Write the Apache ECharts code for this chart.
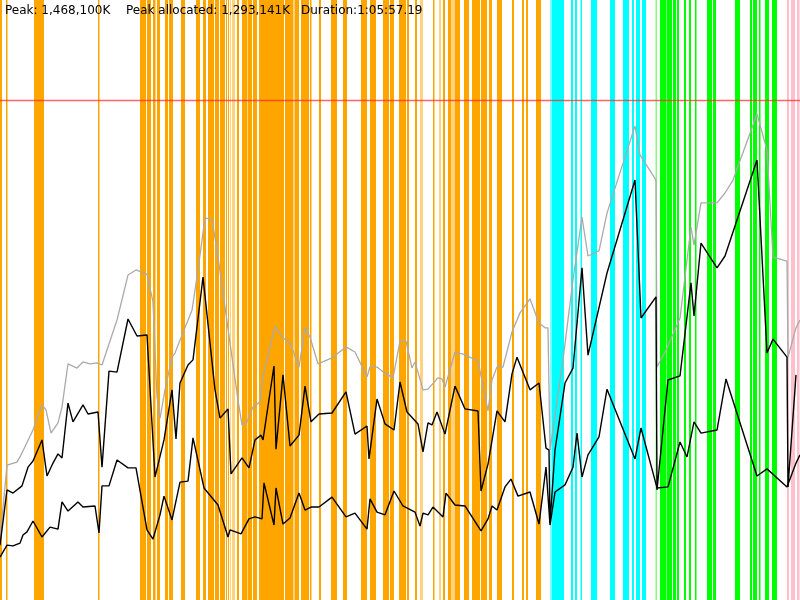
<!DOCTYPE html>
<html>
<head>
<meta charset="utf-8">
<script src="https://cdn.jsdelivr.net/npm/echarts@6/dist/echarts.min.js"></script>
<style>
    html, body { margin: 0; padding: 0; background: #fff; }
    #chartsbox { width: 800px; height: 600px; }
</style>
</head>
<body>
<div id="chartsbox"></div>
<script type="text/javascript">

    // 时间轴: 0..800 个采样单位 (总时长 1:05:57.19), 内存单位: 千 K
    var timeMax = 800;
    var memMax = 1761.6;
    var peakMem = 1468.1;

    var labelTexts = ['Peak: 1,468,100K', 'Peak allocated: 1,293,141K', 'Duration:1:05:57.19'];

    // GC 事件区段 [开始, 结束]
    var orangeBands = [
        [0, 2], [6, 7.5], [34, 44], [98, 99.5],
        [140, 146], [147, 151], [153, 155.5], [157, 160], [165, 168], [169, 173], [181, 185],
        [196, 200], [203, 206], [208, 214], [215, 219], [220, 225], [226, 227], [228, 229],
        [237, 239], [242, 247], [247.5, 252], [253, 257], [259, 284], [285, 293.5], [294.5, 299],
        [301, 309], [310, 311.5], [319, 321], [331, 337], [343, 347], [361, 367], [370, 376],
        [383, 389], [390, 394], [399, 406], [407, 409], [415, 417],
        [433, 434.5], [443, 445], [448, 451], [455, 460], [464, 469], [472, 480], [481, 487],
        [489, 492], [497, 502], [512, 514], [522, 524], [526, 528], [536, 541]
    ];
    var orangeFaintBands = [
        [230, 231], [232, 235], [420, 423], [439, 441], [451, 455]
    ];
    var cyanBands = [
        [552, 564], [571, 573], [575, 577], [580.5, 582], [591, 597], [610, 615],
        [623, 629], [632, 634], [636, 640], [642, 646]
    ];
    var cyanFaintBands = [[550, 552]];
    var greenBands = [
        [660, 666.5], [667, 672], [673, 676], [677, 679], [684, 686], [689, 691], [695, 696.5],
        [707, 712], [713, 716], [735, 740], [750, 752], [753, 757], [759, 760.5], [765, 769], [772, 777]
    ];
    var greenFaintBands = [[655.5, 657]];
    var pinkBands = [[787, 789], [791, 795], [797, 799.5]];

    // 内存曲线 [时间, 内存]
    var grayLine = [
        [0, 176], [7, 396], [17, 405], [20, 420], [33, 499], [42, 573], [46, 558], [51, 490],
        [58, 520], [62, 567], [68, 693], [77, 681], [83, 699], [90, 693], [97, 696], [102, 690],
        [108, 743], [117, 822], [128, 954], [136, 969], [147, 957], [153, 875], [157, 596],
        [160, 534], [165, 617], [172, 713], [175, 725], [180, 763], [192, 851], [197, 948],
        [205, 1122], [212, 1116], [217, 1028], [230, 755], [238, 587], [242, 514], [247, 523],
        [253, 567], [260, 581], [263, 655], [275, 804], [283, 769], [290, 755], [299, 684],
        [305, 799], [310, 772], [318, 693], [332, 711], [346, 743], [355, 728], [367, 655],
        [370, 684], [377, 684], [385, 666], [393, 652], [400, 760], [406, 760], [412, 681],
        [415, 699], [423, 617], [428, 619], [438, 652], [442, 649], [445, 625], [455, 728],
        [463, 722], [478, 702], [488, 555], [492, 646], [497, 684], [503, 684], [512, 787],
        [520, 843], [530, 884], [539, 813], [545, 799], [548, 799], [550, 440], [563, 705],
        [573, 940], [582, 1124], [588, 1010], [599, 1025], [607, 1136], [635, 1392], [640, 1307],
        [656, 1233], [657, 684], [667, 740], [680, 828], [691, 1095], [694, 1042], [701, 1166],
        [717, 1166], [725, 1195], [733, 1233], [757, 1427], [767, 1321], [773, 1007], [787, 995],
        [788, 713], [796, 799], [800, 822]
    ];
    var usedLine = [
        [0, 161], [7, 323], [13, 314], [22, 335], [28, 390], [33, 408], [42, 470], [47, 364],
        [53, 402], [58, 429], [62, 417], [68, 578], [73, 523], [83, 573], [88, 546], [98, 552],
        [102, 390], [109, 672], [117, 669], [128, 825], [137, 775], [147, 778], [155, 361],
        [164, 470], [172, 617], [176, 473], [180, 637], [188, 690], [193, 705], [203, 948],
        [215, 617], [220, 534], [228, 561], [231, 370], [242, 417], [249, 388], [255, 470],
        [261, 484], [263, 470], [274, 687], [276, 443], [283, 661], [290, 452], [299, 484],
        [305, 628], [311, 523], [319, 546], [332, 549], [346, 611], [355, 487], [367, 511],
        [369, 414], [377, 590], [385, 517], [394, 499], [400, 640], [407, 552], [418, 517],
        [423, 435], [428, 520], [432, 514], [437, 552], [445, 487], [455, 628], [465, 561],
        [478, 555], [481, 320], [488, 399], [497, 555], [505, 523], [512, 664], [517, 713],
        [530, 617], [539, 637], [546, 446], [549, 440], [550, 226], [555, 440], [565, 637],
        [573, 681], [582, 975], [588, 719], [607, 960], [635, 1233], [641, 828], [656, 890],
        [657, 323], [668, 646], [680, 658], [691, 931], [694, 834], [701, 1048], [717, 975],
        [725, 1010], [757, 1292], [767, 725], [773, 766], [787, 713], [788, 332], [796, 661]
    ];
    var liveLine = [
        [0, 126], [7, 161], [13, 159], [20, 167], [23, 191], [27, 200], [33, 232], [42, 185],
        [50, 214], [58, 208], [62, 288], [68, 261], [78, 288], [83, 273], [95, 276], [99, 197],
        [102, 335], [109, 335], [117, 411], [128, 388], [136, 388], [147, 206], [153, 179],
        [160, 250], [164, 305], [172, 235], [180, 346], [188, 349], [193, 476], [204, 329],
        [218, 279], [228, 185], [230, 206], [241, 194], [249, 238], [255, 244], [262, 238],
        [264, 344], [274, 220], [276, 329], [283, 223], [290, 241], [299, 314], [305, 264],
        [311, 273], [319, 273], [332, 302], [346, 244], [355, 255], [367, 208], [370, 297],
        [377, 258], [385, 250], [394, 320], [403, 276], [415, 258], [420, 217], [423, 255],
        [428, 250], [433, 273], [443, 244], [446, 314], [455, 279], [465, 276], [481, 203],
        [488, 238], [492, 276], [497, 264], [505, 332], [511, 355], [518, 305], [530, 317],
        [539, 223], [546, 390], [550, 220], [555, 317], [565, 338], [573, 390], [577, 490],
        [582, 361], [588, 426], [599, 479], [607, 619], [635, 414], [641, 505], [657, 329],
        [668, 332], [680, 464], [687, 420], [694, 523], [701, 490], [717, 499], [726, 649],
        [757, 364], [767, 385], [787, 332], [796, 402], [800, 426]
    ];

    init();
    //初始化
    function init() {
        var myChart = echarts.init(document.getElementById('chartsbox'));
        var option = {
            animation: false,
            backgroundColor: '#fff',
            grid: { left: 0, right: 0, top: 0, bottom: 0 },
            xAxis: { type: 'value', min: 0, max: timeMax, show: false },
            yAxis: { type: 'value', min: 0, max: memMax, show: false },
            graphic: MakeLabels(),
            series: [
                MakeBandSeries(orangeBands, '#ffa500', 1),
                MakeBandSeries(orangeFaintBands, '#ffa500', 0.5),
                MakeBandSeries(cyanBands, '#00ffff', 1),
                MakeBandSeries(cyanFaintBands, '#00ffff', 0.5),
                MakeBandSeries(greenBands, '#00ff00', 1),
                MakeBandSeries(greenFaintBands, '#00ff00', 0.5),
                MakeBandSeries(pinkBands, '#ffc0cb', 1),
                MakeLineSeries(grayLine, '#aaaaaa', 1.3),
                MakeLineSeries(usedLine, '#000', 1.4),
                MakeLineSeries(liveLine, '#000', 1.4),
                {
                    type: 'line',
                    data: [],
                    z: 5,
                    markLine: {
                        silent: true,
                        symbol: 'none',
                        label: { show: false },
                        lineStyle: { color: 'rgba(255,40,40,0.7)', width: 1.3, type: 'solid' },
                        data: [{ yAxis: peakMem }]
                    }
                }
            ]
        };
        myChart.setOption(option);
    }

    // 竖条 (GC 事件)
    function MakeBandSeries(aBands, sColor, nOpacity) {
        return {
            type: 'custom',
            z: 1,
            silent: true,
            data: aBands,
            renderItem: function (params, api) {
                var p0 = api.coord([api.value(0), memMax]);
                var p1 = api.coord([api.value(1), 0]);
                return {
                    type: 'rect',
                    shape: { x: p0[0], y: p0[1], width: p1[0] - p0[0], height: p1[1] - p0[1] },
                    style: { fill: sColor, opacity: nOpacity }
                };
            }
        };
    }

    function MakeLineSeries(aData, sColor, nWidth) {
        return {
            type: 'line',
            z: 3,
            data: aData,
            showSymbol: false,
            silent: true,
            lineStyle: { color: sColor, width: nWidth }
        };
    }

    // 顶部文字
    function MakeLabels() {
        var aX = [5, 126, 301];
        var aEl = [];
        for (var i = 0; i < labelTexts.length; i++) {
            aEl.push({
                type: 'text',
                left: aX[i],
                top: 5,
                z: 10,
                style: { text: labelTexts[i], fill: '#000', font: '12px "DejaVu Sans"' }
            });
        }
        return aEl;
    }

</script>
</body>
</html>
